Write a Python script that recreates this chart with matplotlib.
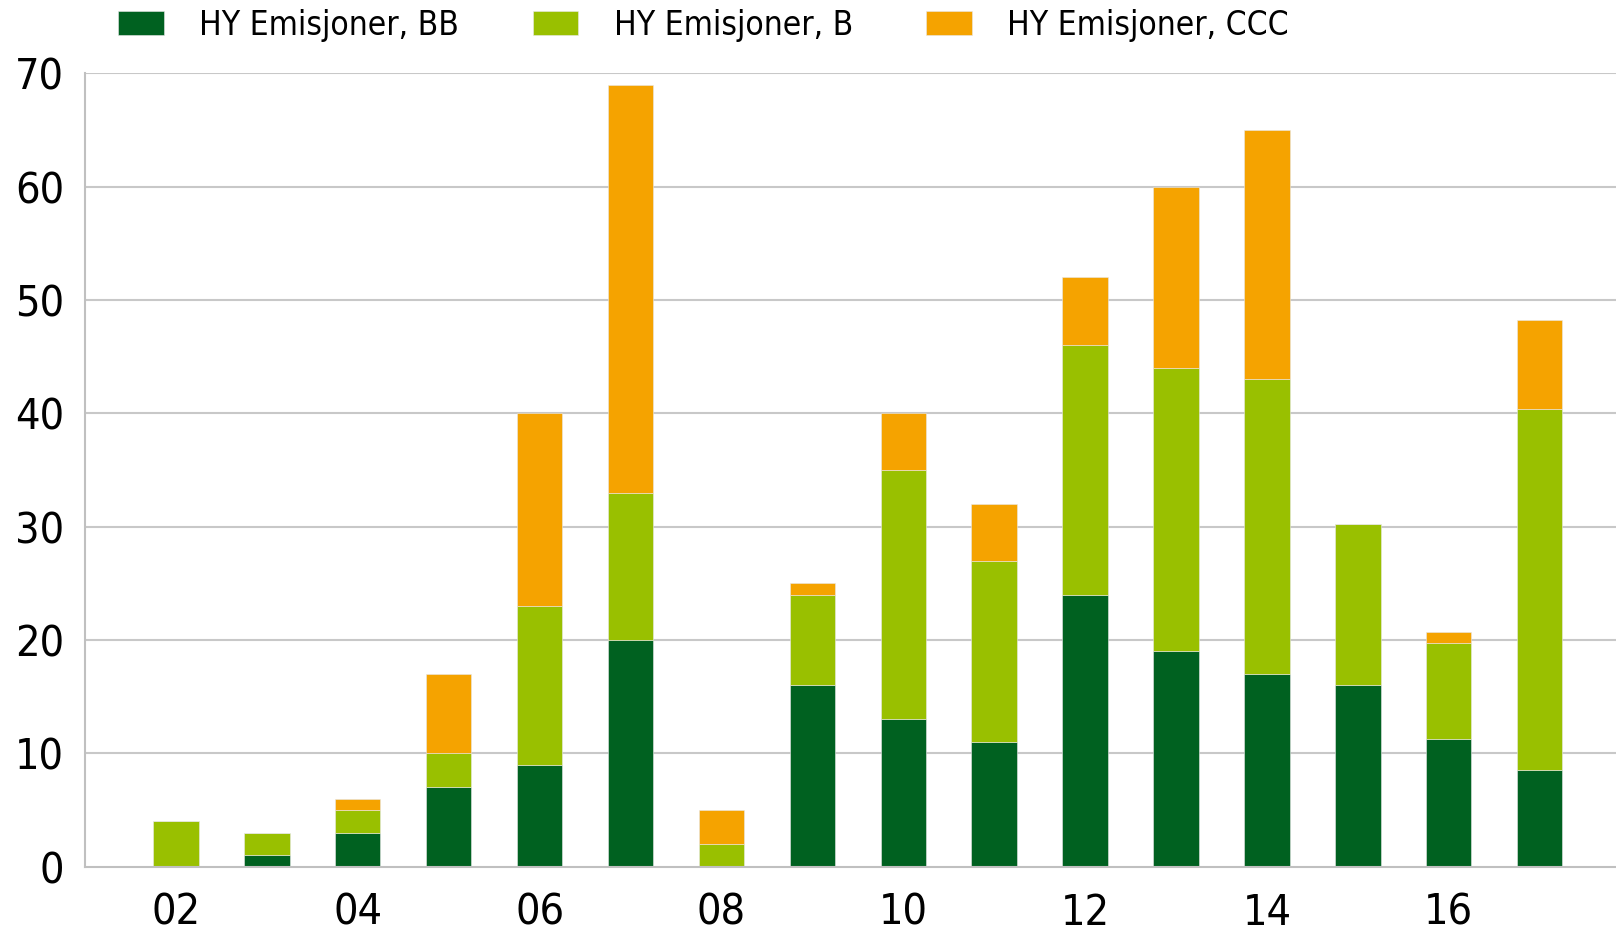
import matplotlib.pyplot as plt
import numpy as np

# data
years = [2002, 2003, 2004, 2005, 2006, 2007, 2008, 2009,
         2010, 2011, 2012, 2013, 2014, 2015, 2016, 2017]
bb = [0, 1, 3, 7, 9, 20, 0, 16, 13, 11, 24, 19, 17, 16, 11.3, 8.5]
b = [4, 2, 2, 3, 14, 13, 2, 8, 22, 16, 22, 25, 26, 14.2, 8.4, 31.9]
ccc = [0, 0, 1, 7, 17, 36, 3, 1, 5, 5, 6, 16, 22, 0, 1.0, 7.8]
serier = ["HY Emisjoner, BB", "HY Emisjoner, B", "HY Emisjoner, CCC"]
farger = ["#006120", "#99c000", "#f5a300"]
xticks = [2002, 2004, 2006, 2008, 2010, 2012, 2014, 2016]
xlabels = ["02", "04", "06", "08", "10", "12", "14", "16"]
yticks = [0, 10, 20, 30, 40, 50, 60, 70]

plt.rcParams['font.family'] = ['DejaVu Sans']
plt.rcParams['font.stretch'] = 'condensed'

fig = plt.figure(figsize=(16.16, 9.31), dpi=100)
ax = fig.add_axes([0.0526, 0.0692, 0.9474, 0.852])

bunn = np.zeros(len(years))
for verdier, navn, farge in zip([bb, b, ccc], serier, farger):
    ax.bar(years, verdier, width=0.5, bottom=bunn, color=farge, label=navn,
           edgecolor='#e8e8e8', linewidth=0.4, zorder=2)
    bunn = bunn + np.array(verdier)

# gridlines behind the bars
for y in yticks[1:]:
    ax.axhline(y, color='#c8c8c8', linewidth=1.5, zorder=0)

ax.set_xlim(2001.0, 2017.84)
ax.set_ylim(0, 70)
ax.set_yticks(yticks)
ax.set_xticks(xticks)
ax.set_xticklabels(xlabels)

for s in ['top', 'right']:
    ax.spines[s].set_visible(False)
for s in ['left', 'bottom']:
    ax.spines[s].set_color('#c0c0c0')
    ax.spines[s].set_linewidth(1.5)

ax.tick_params(axis='y', length=0, pad=15, labelsize=31)
ax.tick_params(axis='x', direction='in', length=8, width=1.5, color='white',
               pad=18, labelsize=31)

fig.legend(loc='center left', bbox_to_anchor=(0.0733, 0.973), ncol=3,
           frameon=False, fontsize=24, borderpad=0, borderaxespad=0,
           handlelength=1.37, handleheight=0.75, handletextpad=1.06,
           columnspacing=2.2)

plt.savefig("out.png", dpi=100)
